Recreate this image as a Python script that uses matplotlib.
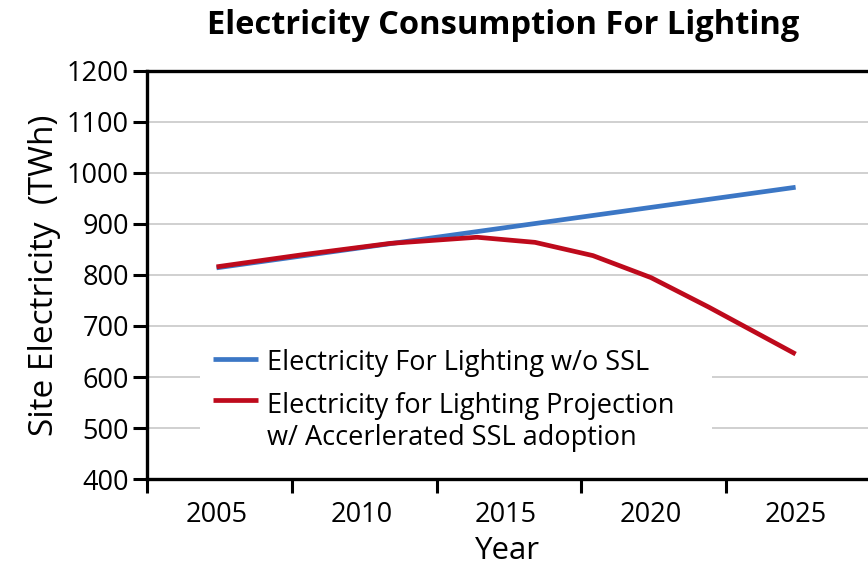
import matplotlib
matplotlib.use("Agg")
import matplotlib.pyplot as plt
from matplotlib.ticker import FixedLocator, NullFormatter
from matplotlib.patches import Rectangle
from matplotlib.lines import Line2D

plt.rcParams['font.family'] = ['Open Sans', 'DejaVu Sans']

# Data
years_base = [2005, 2015, 2025]
base_twh = [814, 893, 972]

years_ssl = [2005, 2008, 2011, 2014, 2016, 2018, 2020, 2022, 2025]
ssl_twh = [816, 840, 862, 874, 864, 838, 795, 737, 645]

label_years = [2005, 2010, 2015, 2020, 2025]
y_ticks = [400, 500, 600, 700, 800, 900, 1000, 1100, 1200]

title = "Electricity Consumption For Lighting"
label_base = "Electricity For Lighting w/o SSL"
label_ssl_1 = "Electricity for Lighting Projection"
label_ssl_2 = "w/ Accerlerated SSL adoption"

fig = plt.figure(figsize=(8.68, 5.71), dpi=100)
ax = fig.add_axes([0.1694, 0.1611, 0.8306, 0.7146])

blue = "#3c77c5"
red = "#be0a1c"

ax.plot(years_base, base_twh, color=blue, lw=3.4, solid_capstyle='butt', zorder=3)
ax.plot(years_ssl, ssl_twh, color=red, lw=3.4, solid_capstyle='butt', zorder=3)

ax.set_xlim(2002.6, 2027.5)
ax.set_ylim(400, 1200)

# major ticks (marks) between years, labels centered on years
ax.xaxis.set_major_locator(FixedLocator([y - 2.4 for y in label_years]))
ax.xaxis.set_major_formatter(NullFormatter())
ax.xaxis.set_minor_locator(FixedLocator(label_years))
ax.set_xticklabels([str(y) for y in label_years], minor=True)
ax.tick_params(axis='x', which='major', direction='out', length=10, width=2.2, color='black')
ax.tick_params(axis='x', which='minor', length=0, pad=16, labelsize=19.5)

ax.set_yticks(y_ticks)
ax.tick_params(axis='y', direction='out', length=10, width=2.2, labelsize=19.5, pad=3)

ax.grid(axis='y', color='#c8c8c8', lw=1.2)
ax.set_axisbelow(True)

for s in ['left', 'bottom', 'top']:
    ax.spines[s].set_linewidth(2.4)
    ax.spines[s].set_color('black')
ax.spines['right'].set_visible(False)

ax.set_ylabel("Site Electricity  (TWh)", fontsize=24, labelpad=4)
ax.set_xlabel("Year", fontsize=22.5, labelpad=5)

fig.text(0.58, 0.956, title, fontsize=23.5, fontweight='bold', ha='center', va='center')

# Legend (drawn by hand to keep the two-line label layout)
def ax_x(px):
    return (px - 147) / 721.0

def ax_y(py):
    return (479 - py) / 408.0

ax.add_patch(Rectangle((ax_x(200), ax_y(455)), ax_x(712) - ax_x(200), ax_y(335) - ax_y(455),
                       transform=ax.transAxes, facecolor='white', edgecolor='none', zorder=2))
ax.add_line(Line2D([ax_x(213), ax_x(258)], [ax_y(359), ax_y(359)], transform=ax.transAxes,
                   color=blue, lw=3.4, solid_capstyle='butt', zorder=4))
ax.add_line(Line2D([ax_x(213), ax_x(258)], [ax_y(400), ax_y(400)], transform=ax.transAxes,
                   color=red, lw=3.4, solid_capstyle='butt', zorder=4))
leg_fs = 19.5
ax.text(ax_x(267), ax_y(370), label_base, transform=ax.transAxes, fontsize=leg_fs,
        va='baseline', ha='left', zorder=4)
ax.text(ax_x(267), ax_y(413), label_ssl_1, transform=ax.transAxes, fontsize=leg_fs,
        va='baseline', ha='left', zorder=4)
ax.text(ax_x(267), ax_y(445), label_ssl_2, transform=ax.transAxes, fontsize=leg_fs,
        va='baseline', ha='left', zorder=4)

fig.savefig("out.png", dpi=100)
